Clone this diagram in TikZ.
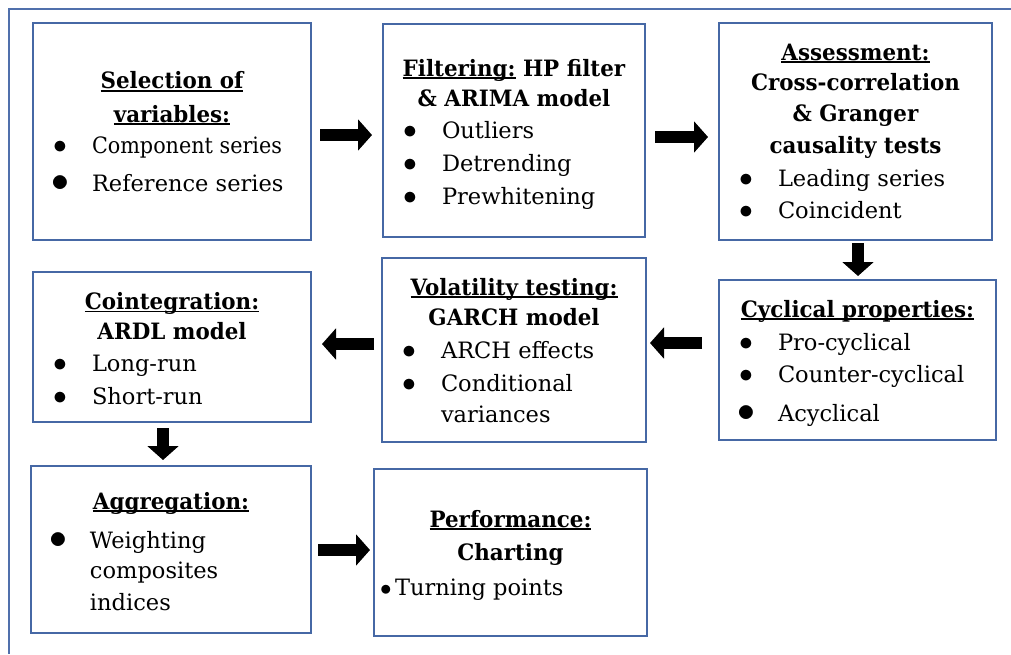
\documentclass[tikz,border=0pt]{standalone}
\usepackage{fontspec}
\setmainfont{DejaVu Serif}
\newfontfamily\ttlfont{DejaVu Serif}[FakeStretch=0.95]
\usetikzlibrary{arrows.meta,fit}
\definecolor{boxblue}{RGB}{70,104,165}
\definecolor{frameblue}{RGB}{80,112,172}
\newlength\pxu \setlength\pxu{0.75pt}
\newsavebox\ulbox
\newcommand\ul[1]{\sbox\ulbox{#1}\rlap{\rule[-0.13em]{\wd\ulbox}{0.08em}}\usebox\ulbox}
\newcommand\Lx[1]{\setbox0\hbox to\linewidth{#1}\ht0=0pt \dp0=0pt \box0 }
\newcommand\T[1]{\Lx{\hss{\ttlfont\bfseries #1}\hss}}
\newcommand\I[1]{\Lx{\hspace*{15pt}\makebox[29.25pt][l]{\scalebox{1.2}{$\bullet$}}#1\hss}}
\newcommand\Ib[1]{\Lx{\hspace*{14pt}\makebox[30.25pt][l]{\scalebox{1.55}{$\bullet$}}#1\hss}}
\newcommand\C[1]{\Lx{\hspace*{44.25pt}#1\hss}}
\newcommand\K[1]{\kern#1\pxu\relax}
\tikzset{
  box/.style={draw=boxblue, line width=2pt, inner sep=0pt, outer sep=0pt, rectangle},
  txt/.style={inner sep=0pt, outer sep=0pt, anchor=base west,
    font=\fontsize{16.9pt}{24pt}\selectfont},
  barrow/.style={draw=black, line width=9.5pt,
    -{Triangle[length=10.5pt,width=23pt]}},
}
\begin{document}
\begin{tikzpicture}[x=0.75pt,y=-0.75pt]
\useasboundingbox (0,0) rectangle (1011,654);
\draw[frameblue, line width=1.5pt] (1011,9) -- (8.5,9) -- (8.5,654);

\node[box, fit={(33,23) (311,240)}] (sel) {};
\node[box, fit={(383,24) (645,237)}] (filt) {};
\node[box, fit={(719,23) (992,240)}] (ass) {};
\node[box, fit={(719,280) (996,440)}] (cyc) {};
\node[box, fit={(382,258) (646,442)}] (vol) {};
\node[box, fit={(33,272) (311,422)}] (coi) {};
\node[box, fit={(31,466) (311,633)}] (agg) {};
\node[box, fit={(374,469) (647,636)}] (perf) {};

\node[txt] (selT) at (33,88.8) {\begin{minipage}[t]{208.5pt}\offinterlineskip
\T{\ul{Selection of}}\K{33.4}
\T{\ul{variables:}}\K{31.3}
\I{\scalebox{0.92}[1]{Component series}}\K{37.7}
\Ib{Reference series}
\end{minipage}};

\node[txt] (filtT) at (383,76) {\begin{minipage}[t]{196.5pt}\offinterlineskip
\T{\ul{Filtering:} HP filter}\K{30.7}
\T{\& ARIMA model}\K{31.6}
\I{Outliers}\K{33.4}
\I{Detrending}\K{32.3}
\I{Prewhitening}
\end{minipage}};

\node[txt] (assT) at (719,60.3) {\begin{minipage}[t]{204.75pt}\offinterlineskip
\T{\ul{Assessment:}}\K{30.4}
\T{Cross-correlation}\K{31}
\T{\& Granger}\K{31.6}
\T{causality tests}\K{32.7}
\I{Leading series}\K{32.3}
\I{Coincident}
\end{minipage}};

\node[txt] (cycT) at (719,317) {\begin{minipage}[t]{207.75pt}\offinterlineskip
\T{\ul{Cyclical properties:}}\K{33}
\I{Pro-cyclical}\K{32.7}
\I{Counter-cyclical}\K{39}
\Ib{Acyclical}
\end{minipage}};

\node[txt] (volT) at (382,295) {\begin{minipage}[t]{198pt}\offinterlineskip
\T{\ul{Volatility testing:}}\K{30.7}
\T{GARCH model}\K{32.6}
\I{ARCH effects}\K{32.7}
\I{Conditional}\K{31.7}
\C{variances}
\end{minipage}};

\node[txt] (coiT) at (33,309.5) {\begin{minipage}[t]{208.5pt}\offinterlineskip
\T{\ul{Cointegration:}}\K{29.8}
\T{ARDL model}\K{32.5}
\I{Long-run}\K{32.3}
\I{Short-run}
\end{minipage}};

\node[txt] (aggT) at (31,509) {\begin{minipage}[t]{210pt}\offinterlineskip
\T{\ul{Aggregation:}}\K{39.3}
\Ib{Weighting}\K{30}
\C{composites}\K{31.7}
\C{indices}
\end{minipage}};

\node[txt] (perfT) at (374,527) {\begin{minipage}[t]{204.75pt}\offinterlineskip
\T{\ul{Performance:}}\K{33}
\T{Charting}\K{35}
\Lx{\hspace*{4.5pt}\makebox[11.25pt][l]{$\bullet$}Turning points\hss}
\end{minipage}};

\draw[barrow, shorten <=6.75pt, shorten >=8.25pt] (sel.east |- 0,135) -- (filt.west |- 0,135);
\draw[barrow, shorten <=7.5pt, shorten >=8.25pt] (filt.east |- 0,137) -- (ass.west |- 0,137);
\draw[barrow, shorten <=2.25pt, shorten >=3pt] (ass.south -| 858,0) -- (cyc.north -| 858,0);
\draw[barrow, shorten <=12.75pt, shorten >=3pt] (cyc.west |- 0,343) -- (vol.east |- 0,343);
\draw[barrow, shorten <=6pt, shorten >=8.25pt] (vol.west |- 0,344) -- (coi.east |- 0,344);
\draw[barrow, shorten <=4.5pt, shorten >=4.5pt] (coi.south -| 163,0) -- (agg.north -| 163,0);
\draw[barrow, shorten <=5.25pt, shorten >=3pt] (agg.east |- 0,550) -- (perf.west |- 0,550);
\end{tikzpicture}
\end{document}
